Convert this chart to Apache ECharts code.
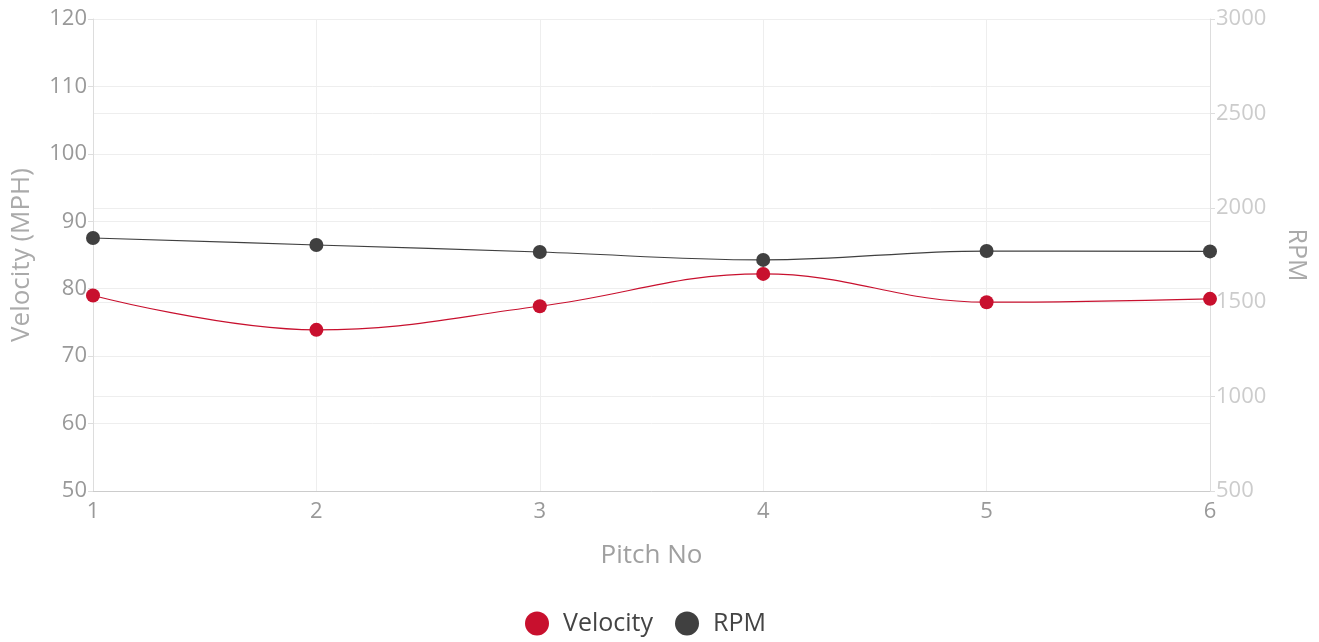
<!DOCTYPE html>
<html><head><meta charset="utf-8">
<script src="https://cdn.jsdelivr.net/npm/echarts@6/dist/echarts.min.js"></script>
<style>html,body{margin:0;padding:0;background:#fff}#c{width:1319px;height:642px}</style>
</head><body><div id="c"></div>
<script>
const categories = ['1','2','3','4','5','6'];
const velocity = [79.0, 73.9, 77.4, 82.2, 78.0, 78.5];
const rpm = [1840, 1803, 1766, 1724, 1771, 1769];
const FONT = '"Open Sans", Lato, sans-serif';
const chart = echarts.init(document.getElementById('c'));
chart.setOption({
  animation: false,
  grid: {left: 93, right: 109, top: 19, bottom: 151, containLabel: false, outerBoundsMode: 'none'},
  legend: {
    bottom: 1, left: 520, icon: 'circle', itemWidth: 24, itemHeight: 24, itemGap: 22,
    textStyle: {fontFamily: FONT, fontSize: 25, color: '#444', padding: [0, 0, 0, 9]},
    data: ['Velocity', 'RPM']
  },
  xAxis: {
    type: 'category', data: categories, boundaryGap: false,
    name: 'Pitch No', nameLocation: 'middle', nameGap: 52,
    nameTextStyle: {fontFamily: FONT, fontSize: 26, color: '#a0a0a0'},
    axisLine: {lineStyle: {color: '#ccc'}},
    axisTick: {show: false},
    axisLabel: {fontFamily: FONT, fontSize: 22, color: '#999', margin: 10},
    splitLine: {show: true, lineStyle: {color: '#eee'}}
  },
  yAxis: [{
    type: 'value', min: 50, max: 120, interval: 10,
    name: 'Velocity (MPH)', nameLocation: 'middle', nameGap: 58,
    nameTextStyle: {fontFamily: FONT, fontSize: 26, color: '#aaa'},
    axisLine: {show: true, lineStyle: {color: '#ddd'}},
    axisTick: {show: true, length: 5, lineStyle: {color: '#ddd'}},
    axisLabel: {fontFamily: FONT, fontSize: 22, color: '#999', margin: 6},
    splitLine: {lineStyle: {color: '#eee'}}
  }, {
    type: 'value', min: 500, max: 3000, interval: 500, position: 'right',
    name: 'RPM', nameLocation: 'middle', nameGap: 74, nameRotate: -90,
    nameTextStyle: {fontFamily: FONT, fontSize: 25, color: '#aaa'},
    axisLine: {show: true, lineStyle: {color: '#ddd'}},
    axisTick: {show: true, length: 5, lineStyle: {color: '#ddd'}},
    axisLabel: {fontFamily: FONT, fontSize: 22, color: '#ccc', margin: 6, formatter: v => String(v)},
    splitLine: {lineStyle: {color: '#eee'}}
  }],
  series: [{
    name: 'Velocity', type: 'line', data: velocity, smooth: 0.4, yAxisIndex: 0,
    symbol: 'circle', symbolSize: 14, color: '#c8102e',
    lineStyle: {width: 1.2, color: '#c8102e'}
  }, {
    name: 'RPM', type: 'line', data: rpm, smooth: 0.4, yAxisIndex: 1,
    symbol: 'circle', symbolSize: 14, color: '#404040',
    lineStyle: {width: 1.2, color: '#404040'}
  }]
});
</script></body></html>
